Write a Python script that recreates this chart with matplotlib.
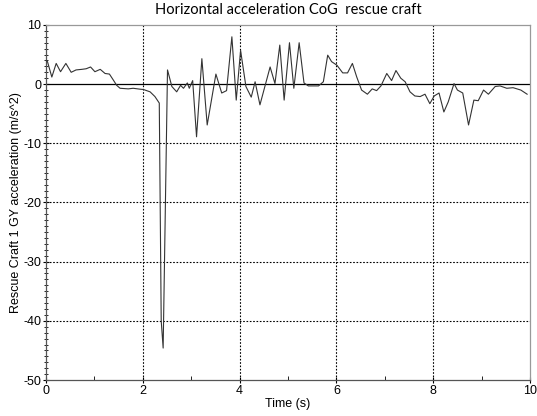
import matplotlib
matplotlib.use("Agg")
import matplotlib.pyplot as plt
from matplotlib.ticker import MultipleLocator

plt.rcParams["axes.unicode_minus"] = False

time_s = [0.00, 0.03, 0.12, 0.21, 0.30, 0.41, 0.52, 0.62, 0.74, 0.83, 0.92, 1.01, 1.12, 1.22, 1.31,
          1.39, 1.46, 1.53, 1.70, 1.80, 1.94, 2.01, 2.15, 2.25, 2.34, 2.38, 2.42, 2.51, 2.60, 2.70,
          2.78, 2.84, 2.92, 2.96, 3.03, 3.11, 3.22, 3.33, 3.51, 3.63, 3.73, 3.84, 3.93, 4.02, 4.13,
          4.24, 4.32, 4.42, 4.63, 4.73, 4.83, 4.92, 5.03, 5.12, 5.23, 5.33, 5.42, 5.63, 5.73, 5.82,
          5.90, 6.01, 6.13, 6.23, 6.33, 6.42, 6.52, 6.64, 6.74, 6.83, 6.92, 7.04, 7.14, 7.23, 7.33,
          7.42, 7.52, 7.62, 7.73, 7.83, 7.93, 8.02, 8.12, 8.22, 8.31, 8.43, 8.50, 8.61, 8.73, 8.84,
          8.93, 9.04, 9.14, 9.28, 9.38, 9.52, 9.65, 9.81, 9.94]
accel = [4.0, 3.8, 1.2, 3.5, 2.1, 3.5, 2.0, 2.4, 2.5, 2.6, 2.9, 2.1, 2.5, 1.8, 1.7,
         0.7, -0.2, -0.7, -0.8, -0.7, -0.85, -0.9, -1.3, -2.1, -3.2, -40.0, -44.6, 2.4, -0.4, -1.3,
         -0.2, -0.7, 0.2, -0.7, 0.6, -8.9, 4.3, -6.9, 1.7, -1.5, -1.1, 8.0, -2.7, 5.7, -0.4,
         -2.2, 0.4, -3.5, 2.9, 0.1, 6.6, -2.7, 7.0, -0.7, 7.0, 0.2, -0.3, -0.3, 0.4, 4.9,
         3.8, 3.2, 1.9, 1.9, 3.5, 1.2, -1.0, -1.7, -0.8, -1.1, -0.3, 1.8, 0.6, 2.3, 1.0,
         0.4, -1.3, -2.0, -2.1, -1.7, -3.3, -2.0, -1.5, -4.7, -3.0, 0.1, -1.0, -1.5, -6.9, -2.7,
         -2.8, -1.0, -1.7, -0.4, -0.3, -0.7, -0.6, -1.0, -1.7]

x_ticks = [0, 2, 4, 6, 8, 10]
y_ticks = [-50, -40, -30, -20, -10, 0, 10]

fig = plt.figure(figsize=(5.37, 4.16), dpi=100)
ax = fig.add_axes([0.0857, 0.0865, 0.9013, 0.8535])

ax.plot(time_s, accel, color="#333333", lw=0.8, zorder=3)
ax.axhline(0, color="black", lw=0.9, zorder=2)

ax.set_xlim(0, 10)
ax.set_ylim(-50, 10)
ax.set_xticks(x_ticks)
ax.set_yticks(y_ticks)
ax.xaxis.set_minor_locator(MultipleLocator(1))
ax.yaxis.set_minor_locator(MultipleLocator(1))

for v in [2, 4, 6, 8]:
    ax.axvline(v, color="black", lw=0.8, ls=(0, (1.5, 1.5)), zorder=1)
for v in [-40, -30, -20, -10]:
    ax.axhline(v, color="black", lw=0.8, ls=(0, (1.5, 1.5)), zorder=1)

ax.tick_params(axis="both", which="major", labelsize=9, direction="inout", length=5, width=0.8,
               pad=1, labelfontfamily="Liberation Sans")
ax.tick_params(axis="y", which="minor", direction="inout", length=3, width=0.6)
ax.tick_params(axis="x", which="minor", direction="in", length=3, width=0.6)

for s in ["left", "bottom"]:
    ax.spines[s].set_color("#555555")
    ax.spines[s].set_linewidth(0.9)
for s in ["top", "right"]:
    ax.spines[s].set_color("#999999")
    ax.spines[s].set_linewidth(0.9)

ax.set_xlabel("Time (s)", fontsize=9, family="Liberation Sans", labelpad=1)
ax.set_ylabel("Rescue Craft 1 GY acceleration (m/s^2)", fontsize=9, family="Liberation Sans", labelpad=1)
ax.set_title("Horizontal acceleration CoG  rescue craft", fontsize=10.5, family="Lato", pad=8)

fig.savefig("out.png", dpi=100)
